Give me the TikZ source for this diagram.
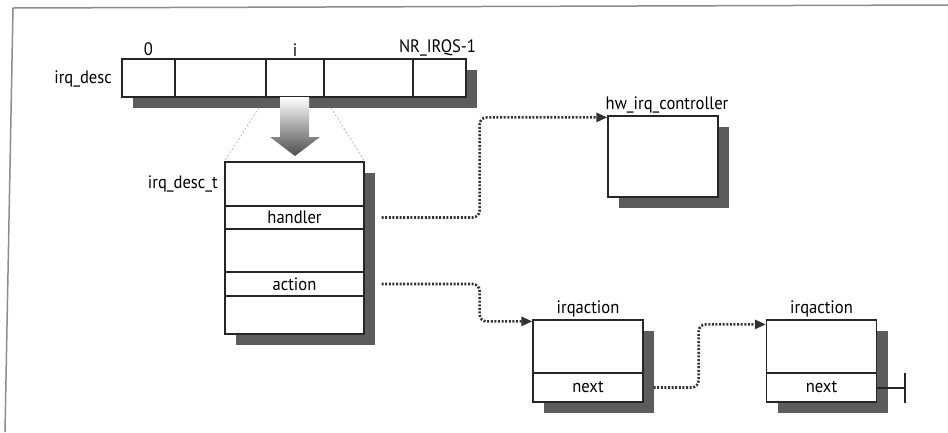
\documentclass[tikz,border=0pt]{standalone}
\usepackage{fontspec}
\setmainfont[FakeStretch=0.92]{PT Sans}
\usetikzlibrary{arrows.meta, shadows}
\pgfdeclarelayer{bg}
\pgfsetlayers{bg,main}
\newcommand{\figfont}{\fontsize{18}{20}\selectfont}

\begin{document}
\begin{tikzpicture}[x=1pt, y=-1pt,
  slot/.style={draw=black!85, line width=1.2pt, fill=white, inner sep=0pt, font=\figfont},
  shbox/.style={slot, drop shadow={shadow xshift=11pt, shadow yshift=-11pt, fill=black!75, opacity=0.85}},
  >={Triangle[length=11pt, width=9pt]},
  ptr/.style={draw=black!80, line width=2.6pt, dash pattern=on 2pt off 1.6pt, rounded corners=7pt, ->},
  fan/.style={draw=black!45, thin, dash pattern=on 2pt off 2pt},
  tag/.style={inner sep=1pt, font=\figfont}
]
  \useasboundingbox (0,0) rectangle (948,432);
  \draw[black!45, line width=1.5pt] (948,5) -- (13,8) -- (5,432);

  % the irq_desc array
  \node[shbox, minimum width=344pt, minimum height=38pt] (desc) at (294,78) {};
  \node[slot, minimum width=53pt, minimum height=38pt] (c0) at (148.5,78) {};
  \node[slot, minimum width=91pt, minimum height=38pt] (c1) at (220.5,78) {};
  \node[slot, minimum width=58pt, minimum height=38pt] (ci) at (295,78) {};
  \node[slot, minimum width=89pt, minimum height=38pt] (c3) at (368.5,78) {};
  \node[slot, minimum width=53pt, minimum height=38pt] (cn) at (439.5,78) {};
  \node[tag, anchor=south] (l0) at ([yshift=1pt]c0.north) {0};
  \node[tag, anchor=south] (li) at ([yshift=1pt]ci.north) {i};
  \node[tag, anchor=south] (ln) at ([xshift=-2pt, yshift=1pt]cn.north) {NR\_IRQS-1};
  \node[tag, anchor=east] (ldesc) at (113,79) {irq\_desc};

  % big arrow
  \shade[top color=white, bottom color=black!70] (280,97) -- (309,97) -- (309,137) -- (320,137)
    -- (295,156) -- (270,137) -- (280,137) -- cycle;

  % irq_desc_t
  \node[shbox, minimum width=139pt, minimum height=172pt] (desct) at (294.5,248) {};
  \node[slot, minimum width=139pt, minimum height=23pt] (handler) at (294.5,217.5) {handler};
  \node[slot, minimum width=139pt, minimum height=24pt] (action) at (294.5,284) {action};
  \node[tag, anchor=east] (ldesct) at (219,184) {irq\_desc\_t};

  \begin{pgfonlayer}{bg}
    \draw[fan] (ci.south west) -- (desct.north west);
    \draw[fan] (ci.south east) -- (desct.north east);
  \end{pgfonlayer}

  % hw_irq_controller
  \node[shbox, minimum width=110pt, minimum height=81pt] (hw) at (663,156.5) {};
  \node[tag, anchor=south] (lhw) at ([xshift=4pt, yshift=1pt]hw.north) {hw\_irq\_controller};

  % irqaction list
  \node[shbox, minimum width=110pt, minimum height=82pt] (act1) at (588,361) {};
  \node[slot, minimum width=110pt, minimum height=29pt] (next1) at (588,387.5) {next};
  \node[tag, anchor=south] (lact1) at ([yshift=1pt]act1.north) {irqaction};
  \node[shbox, minimum width=110pt, minimum height=82pt] (act2) at (821.5,361) {};
  \node[slot, minimum width=110pt, minimum height=29pt] (next2) at (821.5,387.5) {next};
  \node[tag, anchor=south] (lact2) at ([yshift=1pt]act2.north) {irqaction};

  \coordinate (hwin) at ([yshift=-2pt]hw.north west);
  \coordinate (act1in) at ([yshift=-2pt]act1.north west);
  \coordinate (act2in) at ([yshift=-5pt]act2.north west);

  \draw[ptr, shorten <=17pt] (handler.east) -- ++(115,0) |- (hwin);
  \draw[ptr, shorten <=17pt] (action.east) -- ++(115,0) |- (act1in);
  \draw[ptr, shorten <=10pt] (next1.east) -- ++(55,0) |- (act2in);
  \draw[draw=black!85, line width=2pt, -{Bar[width=30pt, line width=2pt]}] (next2.east) -- ++(29,0);
\end{tikzpicture}
\end{document}
